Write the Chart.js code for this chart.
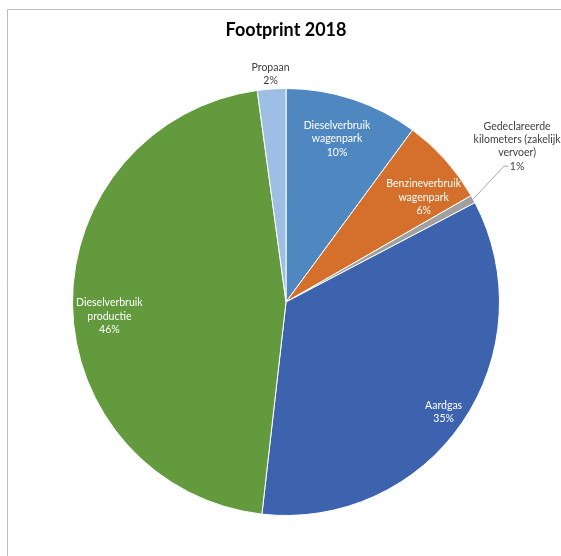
<!DOCTYPE html>
<html>
<head>
<meta charset="utf-8">
<script src="https://cdn.jsdelivr.net/npm/chart.js@4"></script>
<style>
  html, body { margin: 0; padding: 0; background: #fff; }
  #wrap { width: 561px; height: 556px; }
</style>
</head>
<body>
<div id="wrap"><canvas id="myChart"></canvas></div>
<script>
// data
const categories = [
  ['Dieselverbruik', 'wagenpark'],
  ['Benzineverbruik', 'wagenpark'],
  ['Gedeclareerde', 'kilometers (zakelijk', 'vervoer)'],
  ['Aardgas'],
  ['Dieselverbruik', 'productie'],
  ['Propaan']
];
const shares = [10.1, 6.6, 0.6, 34.5, 46.05, 2.15];
const shareLabels = ['10%', '6%', '1%', '35%', '46%', '2%'];
const colors = ['#4f88c1', '#d5702c', '#a0a0a0', '#3d63ae', '#629a3d', '#9dbfe3'];

// label placement: radius factor, angle shift (deg), inside or outside
const placement = [
  { r: 0.80, da: -0.8, inside: true },
  { r: 0.81, da: 4.5, inside: true },
  { r: 1.0, da: 0, inside: false, leader: true },
  { r: 0.90, da: 0.5, inside: true },
  { r: 0.83, da: -4, inside: true },
  { r: 1.07, da: 0, inside: false }
];

const fontFamily = 'Lato, "Open Sans", sans-serif';

const frame = {
  id: 'frame',
  beforeDraw(chart) {
    const c = chart.ctx;
    c.save();
    c.strokeStyle = '#bdbdbd';
    c.lineWidth = 1;
    c.beginPath();
    c.moveTo(7.5, 556);
    c.lineTo(7.5, 9.5);
    c.lineTo(561, 9.5);
    c.stroke();
    c.restore();
  }
};

const sliceLabels = {
  id: 'sliceLabels',
  afterDatasetsDraw(chart) {
    const c = chart.ctx;
    const meta = chart.getDatasetMeta(0);
    c.save();
    c.font = '10.5px ' + fontFamily;
    c.textAlign = 'center';
    c.textBaseline = 'middle';
    const lh = 13.2;
    meta.data.forEach((arc, i) => {
      const p = placement[i];
      const mid = (arc.startAngle + arc.endAngle) / 2 + p.da * Math.PI / 180;
      const lines = categories[i].concat([shareLabels[i]]);
      if (p.leader) {
        const ex = arc.x + Math.cos(mid) * arc.outerRadius;
        const ey = arc.y + Math.sin(mid) * arc.outerRadius;
        const kx = ex + 31, ky = ey - 33;
        c.strokeStyle = '#a6a6a6';
        c.lineWidth = 1;
        c.beginPath();
        c.moveTo(ex, ey);
        c.lineTo(kx, ky);
        c.lineTo(kx + 4, ky);
        c.stroke();
        c.fillStyle = '#404040';
        const cx = kx + 13;
        lines.forEach((t, k) => {
          c.fillText(t, cx, ky - (lines.length - 1 - k) * lh);
        });
        return;
      }
      const cx = arc.x + Math.cos(mid) * arc.outerRadius * p.r;
      const cy = arc.y + Math.sin(mid) * arc.outerRadius * p.r;
      c.fillStyle = p.inside ? '#ffffff' : '#404040';
      const top = cy - (lines.length - 1) * lh / 2;
      lines.forEach((t, k) => c.fillText(t, cx, top + k * lh));
    });
    c.restore();
  }
};

new Chart(document.getElementById('myChart'), {
  type: 'pie',
  data: {
    labels: categories.map(l => l.join(' ')),
    datasets: [{
      data: shares,
      backgroundColor: colors,
      borderColor: '#ffffff',
      borderWidth: 1,
      hoverOffset: 0,
      offset: 0
    }]
  },
  options: {
    responsive: true,
    maintainAspectRatio: false,
    animation: false,
    layout: { padding: { left: 72, right: 61, top: 0, bottom: 40 } },
    plugins: {
      legend: { display: false },
      tooltip: { enabled: false },
      title: {
        display: true,
        text: 'Footprint 2018',
        color: '#000000',
        font: { family: fontFamily, size: 18, weight: 'bold', lineHeight: 1.2 },
        padding: { top: 19, bottom: 47.4 }
      }
    }
  },
  plugins: [frame, sliceLabels]
});
</script>
</body>
</html>
